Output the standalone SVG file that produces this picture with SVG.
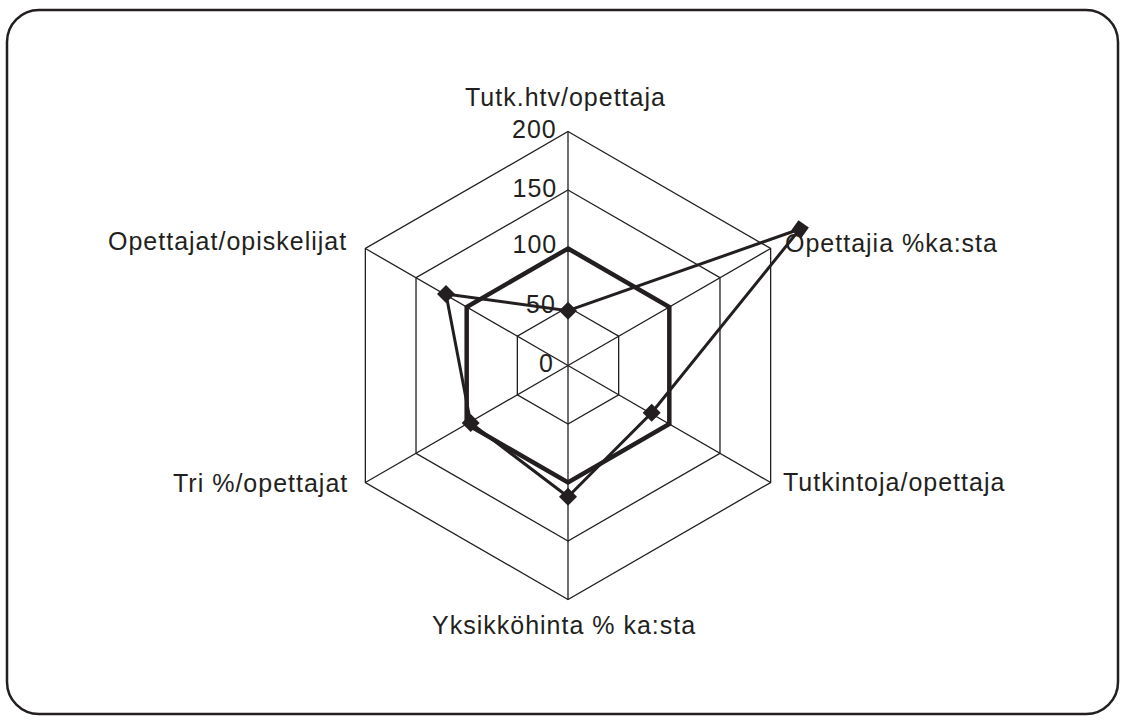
<svg xmlns="http://www.w3.org/2000/svg" width="1123" height="722" viewBox="0 0 1123 722">
<style>
text{font-family:"Liberation Sans",Arial,Helvetica,sans-serif;font-size:25px;letter-spacing:1px;fill:#231f20}
.grid{fill:none;stroke:#231f20;stroke-width:1.3}
.thick{fill:none;stroke:#231f20;stroke-width:4.5;stroke-linejoin:miter}
.thin{fill:none;stroke:#231f20;stroke-width:3}
.mk{fill:#231f20}
</style>
<defs>
<polygon id="dia" points="0,-9 9,0 0,9 -9,0"/>
</defs>
<rect x="7" y="10" width="1111" height="704" rx="32" ry="32" fill="#fff" stroke="#231f20" stroke-width="2.5"/>
<g id="grid">
<polygon class="grid" points="568,307 618.66,336.25 618.66,394.75 568,424 517.34,394.75 517.34,336.25"/>
<polygon class="grid" points="568,248.5 669.32,307 669.32,424 568,482.5 466.68,424 466.68,307"/>
<polygon class="grid" points="568,190 719.98,277.75 719.98,453.25 568,541 416.02,453.25 416.02,277.75"/>
<polygon class="grid" points="568,131.5 770.64,248.5 770.64,482.5 568,599.5 365.36,482.5 365.36,248.5"/>
<line class="grid" x1="568" y1="365.5" x2="568" y2="131.5"/>
<line class="grid" x1="568" y1="365.5" x2="770.64" y2="248.5"/>
<line class="grid" x1="568" y1="365.5" x2="770.64" y2="482.5"/>
<line class="grid" x1="568" y1="365.5" x2="568" y2="599.5"/>
<line class="grid" x1="568" y1="365.5" x2="365.36" y2="482.5"/>
<line class="grid" x1="568" y1="365.5" x2="365.36" y2="248.5"/>
</g>
<g id="axis-values">
<text x="512" y="137.5">200</text>
<text x="512.5" y="196.5">150</text>
<text x="512.5" y="253">100</text>
<text x="526" y="312.5">50</text>
<text x="539" y="371.5">0</text>
</g>
<g id="series">
<polygon class="thick" points="568,248.5 669.32,307 669.32,424 568,482.5 466.68,424 466.68,307"/>
<polygon class="thin" points="568,310.7 800,229 651.7,412.7 568,496.7 470.7,423 446,294"/>
<use href="#dia" class="mk" x="568" y="310.7"/>
<use href="#dia" class="mk" x="800" y="229" transform="rotate(-10 800 229)"/>
<use href="#dia" class="mk" x="651.7" y="412.7"/>
<use href="#dia" class="mk" x="568" y="496.7"/>
<use href="#dia" class="mk" x="470.7" y="423"/>
<use href="#dia" class="mk" x="446" y="294"/>
</g>
<g id="labels">
<text x="465" y="106">Tutk.htv/opettaja</text>
<text x="785" y="251.5">Opettajia %ka:sta</text>
<text x="783" y="491">Tutkintoja/opettaja</text>
<text x="432" y="634">Yksikköhinta % ka:sta</text>
<text x="173" y="492">Tri %/opettajat</text>
<text x="108" y="250">Opettajat/opiskelijat</text>
</g>
</svg>
